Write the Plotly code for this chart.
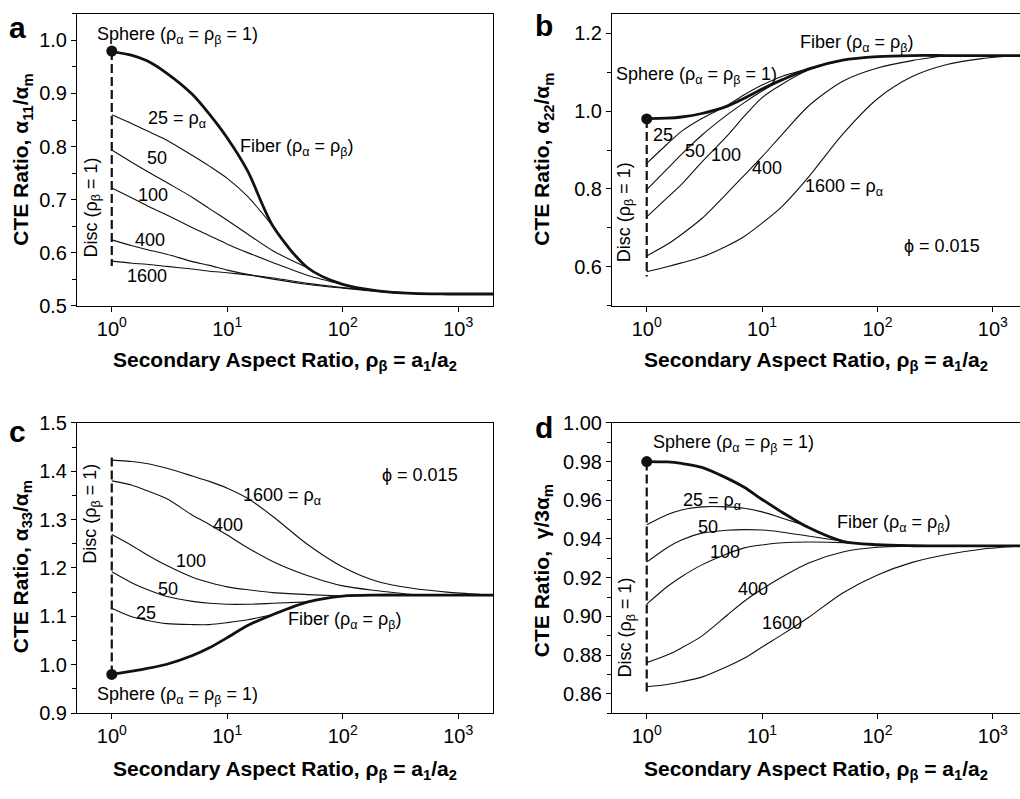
import plotly.graph_objects as go

W, H = 1020, 799
FONT = "Arial, 'Liberation Sans', Helvetica, sans-serif"

# ---------------- data ----------------
RHO_BETA = [1, 1.5, 2, 3, 5, 7, 10, 15, 25, 50, 100, 200, 400, 800, 1600, 2000]
RHO_ALPHA = [25, 50, 100, 400, 1600]
X_TICKS = [1, 10, 100, 1000]
X_TICKTEXT = ["10<sup>0</sup>", "10<sup>1</sup>", "10<sup>2</sup>", "10<sup>3</sup>"]

# (a) alpha11 / alpha_m
A_FIBER = [0.979, 0.972, 0.962, 0.938, 0.898, 0.861, 0.816, 0.754, 0.649, 0.571, 0.540, 0.528, 0.523, 0.522, 0.522, 0.522]
A_25 = [0.860, 0.843, 0.830, 0.812, 0.783, 0.763, 0.740, 0.706, 0.649]
A_50 = [0.7935, 0.770, 0.754, 0.732, 0.704, 0.683, 0.661, 0.635, 0.603, 0.571]
A_100 = [0.722, 0.703, 0.689, 0.671, 0.647, 0.632, 0.616, 0.600, 0.581, 0.557, 0.540]
A_400 = [0.624, 0.613, 0.606, 0.597, 0.583, 0.576, 0.567, 0.559, 0.550, 0.540, 0.533, 0.527, 0.523]
A_1600 = [0.584, 0.580, 0.578, 0.574, 0.569, 0.565, 0.562, 0.558, 0.552, 0.542, 0.534, 0.528, 0.524, 0.522, 0.522]

# (b) alpha22 / alpha_m
B_FIBER = [0.981, 0.982, 0.985, 0.994, 1.013, 1.033, 1.057, 1.081, 1.108, 1.131, 1.140, 1.143, 1.143, 1.143, 1.143, 1.143]
B_25 = [0.866, 0.915, 0.948, 0.981, 1.015, 1.042, 1.067, 1.090, 1.108]
B_50 = [0.798, 0.851, 0.889, 0.938, 0.991, 1.022, 1.052, 1.081, 1.107, 1.131]
B_100 = [0.728, 0.777, 0.812, 0.869, 0.937, 0.987, 1.035, 1.070, 1.105, 1.131, 1.140]
B_400 = [0.628, 0.657, 0.683, 0.724, 0.790, 0.835, 0.883, 0.941, 1.012, 1.077, 1.111, 1.130, 1.143]
B_1600 = [0.587, 0.600, 0.610, 0.625, 0.654, 0.678, 0.712, 0.756, 0.829, 0.941, 1.032, 1.089, 1.120, 1.135, 1.143]

# (c) alpha33 / alpha_m
C_FIBER = [0.980, 0.987, 0.992, 1.001, 1.019, 1.035, 1.056, 1.081, 1.104, 1.130, 1.142, 1.144, 1.144, 1.144, 1.144, 1.144]
C_25 = [1.117, 1.099, 1.092, 1.085, 1.083, 1.083, 1.087, 1.093, 1.104]
C_50 = [1.192, 1.169, 1.156, 1.141, 1.131, 1.127, 1.125, 1.125, 1.127, 1.130]
C_100 = [1.269, 1.246, 1.228, 1.205, 1.181, 1.170, 1.161, 1.155, 1.149, 1.145, 1.142]
C_400 = [1.380, 1.371, 1.360, 1.343, 1.309, 1.290, 1.268, 1.242, 1.213, 1.184, 1.163, 1.153, 1.145]
C_1600 = [1.423, 1.420, 1.416, 1.406, 1.390, 1.379, 1.365, 1.344, 1.306, 1.248, 1.202, 1.172, 1.158, 1.150, 1.145]

# (d) gamma / 3 alpha_m
D_FIBER = [0.9800, 0.9798, 0.9790, 0.9770, 0.9713, 0.9667, 0.9604, 0.9537, 0.9460, 0.9388, 0.9370, 0.9365, 0.9364, 0.9364, 0.9364, 0.9364]
D_25 = [0.9473, 0.9525, 0.9550, 0.9566, 0.9566, 0.9559, 0.9540, 0.9507, 0.9465]
D_50 = [0.9280, 0.9355, 0.9395, 0.9430, 0.9445, 0.9448, 0.9446, 0.9435, 0.9415, 0.9388]
D_100 = [0.9063, 0.9153, 0.9205, 0.9266, 0.9324, 0.9354, 0.9369, 0.9380, 0.9384, 0.9381, 0.9370]
D_400 = [0.8761, 0.8800, 0.8837, 0.8898, 0.9007, 0.9078, 0.9141, 0.9205, 0.9275, 0.9333, 0.9357, 0.9363, 0.9364]
D_1600 = [0.8636, 0.8648, 0.8662, 0.8686, 0.8741, 0.8783, 0.8842, 0.8907, 0.8993, 0.9121, 0.9214, 0.9279, 0.9320, 0.9347, 0.9362]

SPHERE_VALUE = 0.98
DISC_A = [0.98, 0.575]
DISC_B = [0.98, 0.575]
DISC_C = [0.98, 1.43]
DISC_D = [0.98, 0.861]

Y_TITLES = ["CTE Ratio, α<sub>11</sub>/α<sub>m</sub>", "CTE Ratio, α<sub>22</sub>/α<sub>m</sub>",
            "CTE Ratio, α<sub>33</sub>/α<sub>m</sub>", "CTE Ratio,  γ/3α<sub>m</sub>"]
X_TITLE = "Secondary Aspect Ratio, ρ<sub>β</sub> = a<sub>1</sub>/a<sub>2</sub>"
PANEL_LETTERS = ["a", "b", "c", "d"]

SPHERE_TXT = "Sphere (ρ<sub>α</sub> = ρ<sub>β</sub> = 1)"
FIBER_TXT = "Fiber (ρ<sub>α</sub> = ρ<sub>β</sub>)"
DISC_TXT = "Disc (ρ<sub>β</sub> = 1)"
PHI_TXT = "ϕ = 0.015"

panels = [
    dict(fiber=A_FIBER, thin=[A_25, A_50, A_100, A_400, A_1600], disc=DISC_A,
         xdom=(77, 493), ydom=(3, 303), xr=(-0.30103, 3.30103), yr=(0.5, 1.05),
         tick0=0.5, dtick=0.1, minor=0.05, fmt=".1f"),
    dict(fiber=B_FIBER, thin=[B_25, B_50, B_100, B_400, B_1600], disc=DISC_B,
         xdom=(612, 1020), ydom=(3, 303), xr=(-0.30103, 3.235), yr=(0.5, 1.25),
         tick0=0.6, dtick=0.2, minor=0.1, fmt=".1f"),
    dict(fiber=C_FIBER, thin=[C_25, C_50, C_100, C_400, C_1600], disc=DISC_C,
         xdom=(77, 493), ydom=(423.5, 722), xr=(-0.30103, 3.30103), yr=(0.9, 1.5),
         tick0=0.9, dtick=0.1, minor=0.05, fmt=".1f"),
    dict(fiber=D_FIBER, thin=[D_25, D_50, D_100, D_400, D_1600], disc=DISC_D,
         xdom=(612, 1020), ydom=(423.5, 722), xr=(-0.30103, 3.235), yr=(0.85, 1.0),
         tick0=0.86, dtick=0.02, minor=0.01, fmt=".2f"),
]

fig = go.Figure()
layout = {}
for i, p in enumerate(panels):
    n = "" if i == 0 else str(i + 1)
    xa, ya = "x" + n, "y" + n
    for vals in p["thin"]:
        fig.add_trace(go.Scatter(x=RHO_BETA[:len(vals)], y=vals, mode="lines",
                                 line=dict(color="#111111", width=1.1, shape="spline", smoothing=0.8),
                                 xaxis=xa, yaxis=ya, showlegend=False, hoverinfo="skip"))
    fig.add_trace(go.Scatter(x=RHO_BETA, y=p["fiber"], mode="lines",
                             line=dict(color="#111111", width=2.8, shape="spline", smoothing=0.8),
                             xaxis=xa, yaxis=ya, showlegend=False, hoverinfo="skip"))
    fig.add_trace(go.Scatter(x=[1, 1], y=p["disc"], mode="lines",
                             line=dict(color="#111111", width=2.2, dash="9px,4px"),
                             xaxis=xa, yaxis=ya, showlegend=False, hoverinfo="skip"))
    fig.add_trace(go.Scatter(x=[1], y=[SPHERE_VALUE], mode="markers",
                             marker=dict(color="#111111", size=11),
                             xaxis=xa, yaxis=ya, showlegend=False, hoverinfo="skip"))
    x0, x1 = p["xdom"]
    y0, y1 = p["ydom"]
    layout["xaxis" + n] = dict(
        domain=[x0 / W, x1 / W], anchor=ya, type="log", range=list(p["xr"]),
        tickvals=X_TICKS, ticktext=X_TICKTEXT, ticks="outside", ticklen=5,
        tickwidth=1, tickcolor="black", showline=True, linecolor="black",
        linewidth=1, mirror=True, showgrid=False, zeroline=False,
        tickfont=dict(family=FONT, size=20, color="black"))
    layout["yaxis" + n] = dict(
        domain=[1 - y1 / H, 1 - y0 / H], anchor=xa, range=list(p["yr"]),
        tick0=p["tick0"], dtick=p["dtick"], tickformat=p["fmt"], ticks="outside",
        ticklen=5, tickwidth=1, tickcolor="black", showline=True,
        linecolor="black", linewidth=1, mirror=(i % 2 == 0), showgrid=False,
        zeroline=False, tickfont=dict(family=FONT, size=20, color="black"),
        minor=dict(dtick=p["minor"], ticks="outside", ticklen=4, tickcolor="black",
                   showgrid=False))


def px(x, y):
    return x / W, 1 - y / H


annotations = []


def note(x, y, text, size=18, bold=False, angle=0, xanchor="left", yanchor="middle"):
    if xanchor == "left":
        x -= 2
    xp, yp = px(x, y)
    annotations.append(dict(
        x=xp, y=yp, xref="paper", yref="paper", text=("<b>%s</b>" % text) if bold else text,
        showarrow=False, xanchor=xanchor, yanchor=yanchor, textangle=angle,
        font=dict(family=FONT, size=size, color="black")))


# axis titles
for (cx, cy), t in zip([(22, 153), (543, 153), (22, 572), (543, 576)], Y_TITLES):
    note(cx, cy, t, size=21, bold=True, angle=-90, xanchor="center")
for cx, cy in [(285, 360), (816, 360), (285, 781), (816, 781)]:
    note(cx, cy, X_TITLE, size=21, bold=True, xanchor="center")
# panel letters
for (cx, cy), t in zip([(17, 17), (544, 15), (17, 432), (544, 428)], PANEL_LETTERS):
    note(cx, cy, t, size=30, bold=True, xanchor="center")

# panel a
note(97, 25, SPHERE_TXT)
note(148, 112, "25 = ρ<sub>α</sub>")
note(147, 151, "50")
note(138, 189, "100")
note(135, 235, "400")
note(127, 272, "1600")
note(240, 140, FIBER_TXT)
note(92, 202, DISC_TXT, angle=-90, xanchor="center")
# panel b
note(800, 33, FIBER_TXT)
note(616, 66, SPHERE_TXT)
note(653, 127, "25")
note(685, 144, "50")
note(711, 148, "100")
note(752, 161, "400")
note(805, 182, "1600 = ρ<sub>α</sub>")
note(904, 242, PHI_TXT)
note(625, 207, DISC_TXT, angle=-90, xanchor="center")
# panel c
note(382, 477, PHI_TXT)
note(243, 499, "1600 = ρ<sub>α</sub>")
note(213, 529, "400")
note(176, 566, "100")
note(158, 594, "50")
note(136, 619, "25")
note(288, 627, FIBER_TXT)
note(97, 704, SPHERE_TXT)
note(92, 517, DISC_TXT, angle=-90, xanchor="center")
# panel d
note(653, 445, SPHERE_TXT)
note(683, 504, "25 = ρ<sub>α</sub>")
note(698, 531, "50")
note(710, 556, "100")
note(738, 594, "400")
note(762, 629, "1600")
note(837, 527, FIBER_TXT)
note(627, 634, DISC_TXT, angle=-90, xanchor="center")

fig.update_layout(
    width=W, height=H, margin=dict(l=0, r=0, t=0, b=0),
    paper_bgcolor="white", plot_bgcolor="white",
    font=dict(family=FONT, color="black"),
    annotations=annotations, showlegend=False, **layout)

fig.write_html("out.html", config={"displayModeBar": False},
               post_script="document.body.style.margin='0';document.body.style.overflow='hidden';")
